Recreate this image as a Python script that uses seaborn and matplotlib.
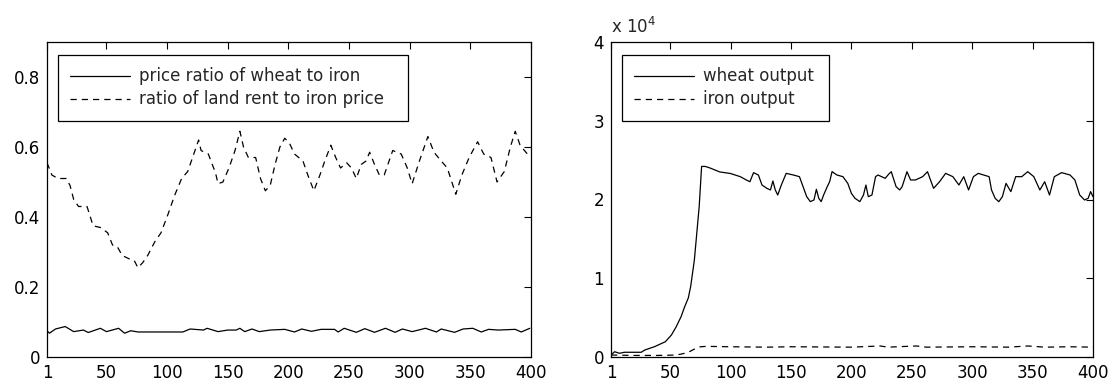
import matplotlib
matplotlib.use("Agg")
import matplotlib.pyplot as plt
import seaborn as sns

# -------------------------------
# Data
# -------------------------------
# left panel: price ratio of wheat to iron (solid)
price_x = [1, 3, 8, 16, 23, 31, 35, 45, 50, 60,
           65, 70, 76, 113, 119, 130, 133, 142, 150, 157,
           160, 164, 170, 176, 185, 197, 205, 211, 219, 227,
           238, 241, 246, 256, 263, 271, 280, 288, 294, 302,
           313, 322, 326, 337, 344, 352, 359, 365, 373, 387,
           392, 399]
price_y = [0.075, 0.068, 0.080, 0.087, 0.0725, 0.077, 0.070, 0.082, 0.0725, 0.082,
           0.068, 0.075, 0.0715, 0.0715, 0.080, 0.077, 0.082, 0.0725, 0.077, 0.077,
           0.082, 0.0725, 0.080, 0.0725, 0.077, 0.079, 0.0715, 0.080, 0.0734, 0.079,
           0.079, 0.0715, 0.082, 0.0705, 0.081, 0.0705, 0.082, 0.0705, 0.080, 0.0725,
           0.082, 0.0715, 0.080, 0.0705, 0.080, 0.082, 0.0715, 0.079, 0.077, 0.079,
           0.0715, 0.082]

# left panel: ratio of land rent to iron price (dashed)
rent_x = [1, 5, 10, 17, 20, 23, 27, 34, 39, 45,
          51, 55, 59, 63, 69, 73, 76, 80, 84, 90,
          95, 101, 106, 112, 117, 121, 126, 128, 134, 140,
          142, 146, 151, 156, 160, 163, 167, 173, 177, 181,
          185, 189, 193, 197, 201, 205, 212, 216, 221, 226,
          230, 235, 239, 243, 248, 252, 256, 260, 264, 267,
          271, 275, 279, 283, 286, 293, 298, 302, 308, 315,
          320, 326, 331, 338, 343, 349, 356, 361, 367, 372,
          378, 383, 387, 391, 397, 400]
rent_y = [0.555, 0.52, 0.51, 0.51, 0.49, 0.45, 0.43, 0.43, 0.375, 0.37,
          0.355, 0.32, 0.315, 0.29, 0.28, 0.275, 0.255, 0.27, 0.29, 0.33,
          0.355, 0.41, 0.46, 0.51, 0.53, 0.57, 0.62, 0.59, 0.58, 0.525,
          0.495, 0.50, 0.54, 0.59, 0.645, 0.60, 0.57, 0.57, 0.51, 0.475,
          0.49, 0.55, 0.60, 0.625, 0.61, 0.58, 0.56, 0.52, 0.475, 0.52,
          0.56, 0.605, 0.57, 0.54, 0.555, 0.54, 0.51, 0.55, 0.56, 0.585,
          0.55, 0.52, 0.52, 0.56, 0.59, 0.58, 0.54, 0.495, 0.56, 0.63,
          0.585, 0.56, 0.54, 0.465, 0.52, 0.57, 0.615, 0.58, 0.57, 0.50,
          0.53, 0.60, 0.645, 0.605, 0.58, 0.58]

# right panel: wheat output (solid)
wheat_x = [1, 4, 8, 12, 26, 29, 37, 46, 51, 55,
           59, 62, 65, 67, 70, 72, 74, 76, 79, 83,
           91, 100, 108, 113, 116, 119, 123, 126, 130, 133,
           135, 137, 139, 142, 146, 152, 157, 160, 163, 166,
           169, 171, 173, 175, 177, 180, 182, 184, 188, 193,
           197, 200, 203, 207, 210, 212, 214, 217, 220, 222,
           228, 231, 233, 237, 240, 242, 246, 249, 253, 259,
           263, 268, 273, 278, 284, 289, 293, 297, 301, 305,
           314, 316, 319, 322, 325, 328, 332, 336, 341, 346,
           351, 356, 360, 364, 368, 374, 381, 385, 389, 393,
           396, 398, 400]
wheat_y = [250, 670, 470, 600, 600, 890, 1310, 1940, 2790, 3850,
           5120, 6390, 7500, 9000, 12300, 15700, 19100, 24200, 24200, 24000,
           23500, 23300, 22900, 22480, 22260, 23410, 23110, 21840, 21420, 21210,
           22350, 21210, 20570, 21840, 23320, 23110, 22900, 21630, 20360, 19730,
           19940, 21290, 20150, 19730, 20570, 21630, 22260, 23540, 23110, 22900,
           22050, 20780, 20150, 19730, 20570, 21840, 20360, 20570, 22900, 23110,
           22690, 23240, 23530, 21630, 21210, 21630, 23530, 22480, 22480, 22900,
           23530, 21420, 22260, 23320, 22900, 21840, 22900, 21210, 22900, 23320,
           22900, 21210, 20150, 19720, 20360, 22050, 21000, 22900, 22900, 23530,
           22900, 21210, 22260, 20570, 22900, 23410, 23110, 22480, 20570, 19940,
           20150, 21000, 20360]

# right panel: iron output (dashed)
iron_x = [1, 20, 40, 55, 60, 65, 70, 75, 80, 100,
          130, 150, 200, 224, 230, 254, 262, 300, 330, 346,
          360, 380, 400]
iron_y = [250, 200, 200, 250, 400, 600, 1000, 1300, 1350, 1300,
          1250, 1300, 1250, 1400, 1250, 1400, 1250, 1300, 1250, 1400,
          1250, 1300, 1250]

xtick_vals = [1, 50, 100, 150, 200, 250, 300, 350, 400]
left_yticks = [0, 0.2, 0.4, 0.6, 0.8]
left_ylabels = ["0", "0.2", "0.4", "0.6", "0.8"]
right_yticks = [0, 10000, 20000, 30000, 40000]
right_ylabels = ["0", "1", "2", "3", "4"]

# -------------------------------
# Style
# -------------------------------
sns.set_style("white")
plt.rcParams["font.family"] = ["DejaVu Sans"]
plt.rcParams["font.size"] = 12
plt.rcParams["mathtext.fontset"] = "dejavusans"

dash = (0, (5, 4))

fig = plt.figure(figsize=(11.14, 3.87), dpi=100)
fig.patch.set_facecolor("white")
ax1 = fig.add_axes([47 / 1114, 30 / 387, 484 / 1114, 315 / 387])
ax2 = fig.add_axes([611 / 1114, 30 / 387, 482 / 1114, 315 / 387])

# -------------------------------
# Left panel
# -------------------------------
sns.lineplot(x=price_x, y=price_y, color="black", linewidth=0.9,
             label="price ratio of wheat to iron", ax=ax1)
sns.lineplot(x=rent_x, y=rent_y, color="black", linewidth=0.9, linestyle=dash,
             label="ratio of land rent to iron price", ax=ax1)
ax1.set_xlim(1, 400)
ax1.set_ylim(0, 0.9)
ax1.set_yticks(left_yticks)
ax1.set_yticklabels(left_ylabels)

# -------------------------------
# Right panel
# -------------------------------
sns.lineplot(x=wheat_x, y=wheat_y, color="black", linewidth=0.9,
             label="wheat output", ax=ax2)
sns.lineplot(x=iron_x, y=iron_y, color="black", linewidth=0.9, linestyle=dash,
             label="iron output", ax=ax2)
ax2.set_xlim(1, 400)
ax2.set_ylim(0, 40000)
ax2.set_yticks(right_yticks)
ax2.set_yticklabels(right_ylabels)
ax2.text(0.0, 1.015, r"x 10$^{4}$", transform=ax2.transAxes,
         ha="left", va="bottom", fontsize=12)

legend_boxes = {ax1: (0.0227, 0.749, 0.723, 0.21), ax2: (0.0228, 0.749, 0.429, 0.21)}

for ax in (ax1, ax2):
    ax.set_xticks(xtick_vals)
    ax.set_xticklabels([str(v) for v in xtick_vals])
    ax.set_xlabel("")
    ax.set_ylabel("")
    ax.tick_params(direction="in", length=5, width=0.8, top=True, right=True,
                   labelsize=12, pad=5, colors="black")
    for sp in ax.spines.values():
        sp.set_visible(True)
        sp.set_color("black")
        sp.set_linewidth(0.9)
    leg = ax.legend(loc="upper left", bbox_to_anchor=legend_boxes[ax], mode="expand",
                    borderaxespad=0, frameon=True, fancybox=False, framealpha=1,
                    edgecolor="black", handlelength=3.6, handletextpad=0.5,
                    labelspacing=0.3, borderpad=0.75, fontsize=12)
    leg.get_frame().set_linewidth(0.9)

fig.savefig("out.png", dpi=100, facecolor="white")
plt.close()
